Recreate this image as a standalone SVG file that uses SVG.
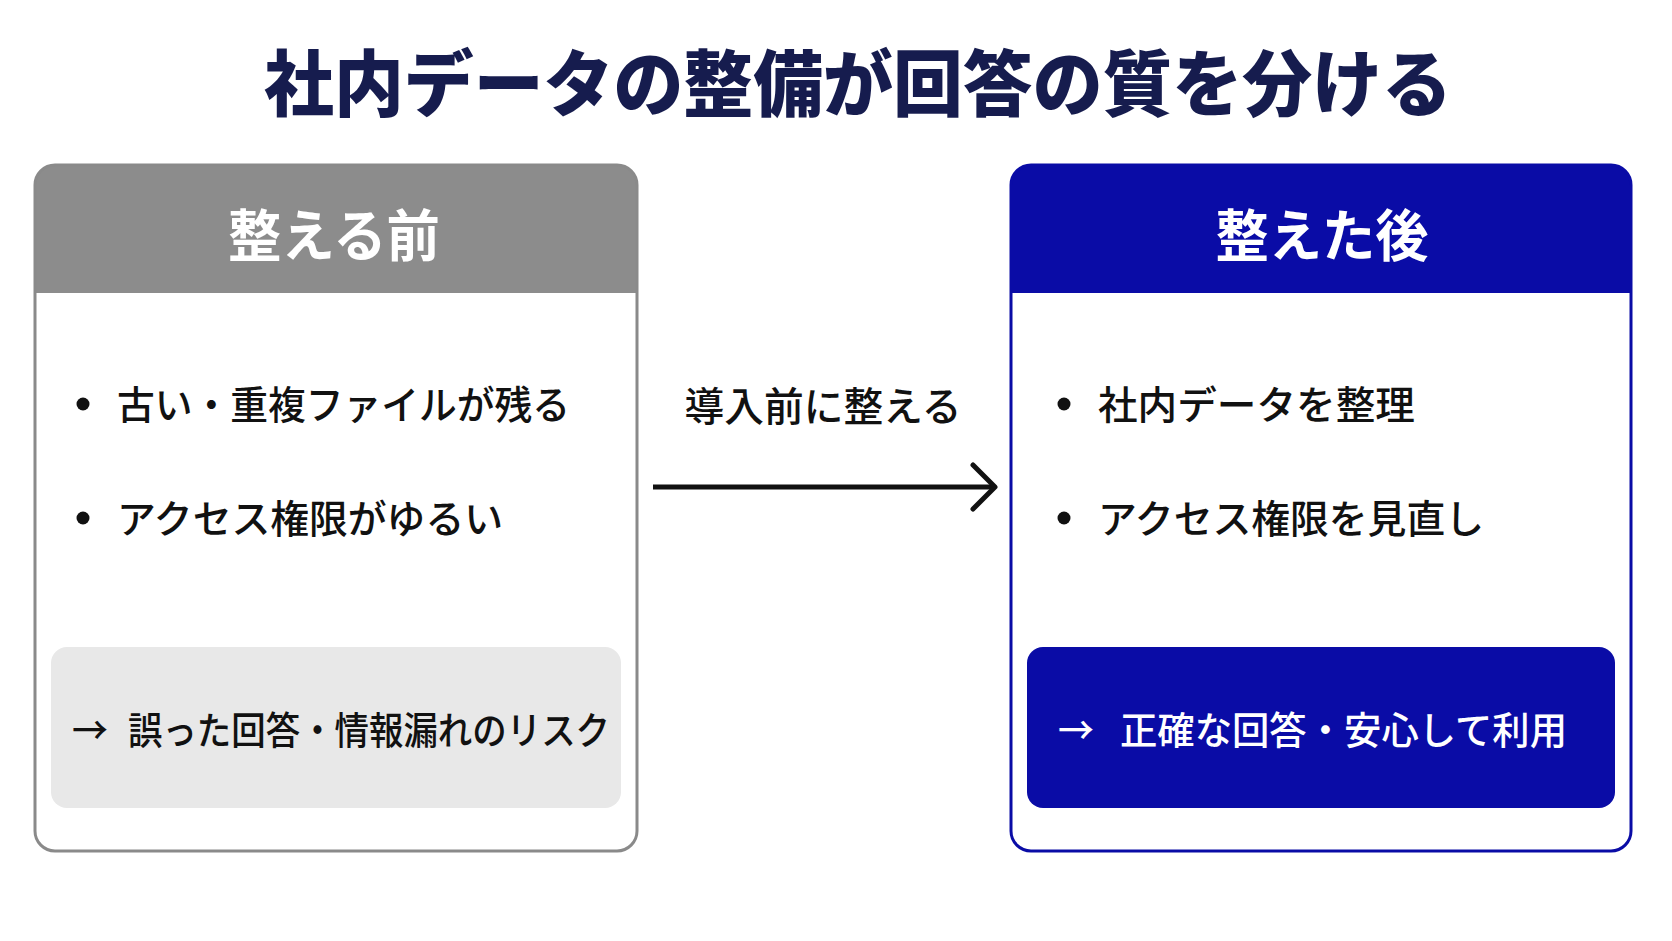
<svg xmlns="http://www.w3.org/2000/svg" width="1672" height="941" viewBox="0 0 1672 941">
  <defs>
    <style>
      text { font-family: "Noto Sans CJK JP", "Noto Sans", sans-serif; dominant-baseline: central; }
      .title { font-size: 72px; font-weight: 900; fill: #161c4e; }
      .head { font-size: 56px; font-weight: 700; fill: #ffffff; text-anchor: middle; }
      .item { font-size: 39px; font-weight: 500; fill: #111111; }
      .note { font-size: 38px; font-weight: 500; }
      .label { font-size: 40px; font-weight: 500; fill: #111111; text-anchor: middle; }
    </style>
  </defs>
  <rect x="0" y="0" width="1672" height="941" fill="#ffffff"/>

  <text class="title" x="858" y="78" text-anchor="middle" textLength="1188" lengthAdjust="spacingAndGlyphs">社内データの整備が回答の質を分ける</text>

  <g id="before">
    <rect x="35" y="165" width="602" height="686" rx="20" fill="#ffffff"/>
    <path d="M35,293 V185 A20,20 0 0 1 55,165 H617 A20,20 0 0 1 637,185 V293 Z" fill="#8c8c8c"/>
    <rect x="35" y="165" width="602" height="686" rx="20" fill="none" stroke="#8a8a8a" stroke-width="3"/>
    <text class="head" x="334" y="231" textLength="212" lengthAdjust="spacingAndGlyphs">整える前</text>
    <circle cx="83" cy="404" r="6.5" fill="#111111"/>
    <text class="item" x="117" y="402" textLength="453" lengthAdjust="spacingAndGlyphs">古い・重複ファイルが残る</text>
    <circle cx="83" cy="518" r="6.5" fill="#111111"/>
    <text class="item" x="117" y="516" textLength="386" lengthAdjust="spacingAndGlyphs">アクセス権限がゆるい</text>
    <rect x="51" y="647" width="570" height="161" rx="16" fill="#e8e8e8"/>
    <text class="note" x="72" y="727" fill="#111111" textLength="36" lengthAdjust="spacingAndGlyphs">→</text>
    <text class="note" x="128" y="727" fill="#111111" textLength="482" lengthAdjust="spacingAndGlyphs">誤った回答・情報漏れのリスク</text>
  </g>

  <g id="after">
    <rect x="1011" y="165" width="620" height="686" rx="20" fill="#ffffff"/>
    <path d="M1011,293 V185 A20,20 0 0 1 1031,165 H1611 A20,20 0 0 1 1631,185 V293 Z" fill="#0a0ca6"/>
    <rect x="1011" y="165" width="620" height="686" rx="20" fill="none" stroke="#0a0ca6" stroke-width="3"/>
    <text class="head" x="1322" y="231" textLength="213" lengthAdjust="spacingAndGlyphs">整えた後</text>
    <circle cx="1064" cy="404" r="6.5" fill="#111111"/>
    <text class="item" x="1098" y="402" textLength="317" lengthAdjust="spacingAndGlyphs">社内データを整理</text>
    <circle cx="1064" cy="518" r="6.5" fill="#111111"/>
    <text class="item" x="1098" y="516" textLength="386" lengthAdjust="spacingAndGlyphs">アクセス権限を見直し</text>
    <rect x="1027" y="647" width="588" height="161" rx="16" fill="#0a0ca6"/>
    <text class="note" x="1058" y="727" fill="#ffffff" textLength="36" lengthAdjust="spacingAndGlyphs">→</text>
    <text class="note" x="1120" y="727" fill="#ffffff" textLength="447" lengthAdjust="spacingAndGlyphs">正確な回答・安心して利用</text>
  </g>

  <g id="connectors">
    <line x1="653" y1="487" x2="993" y2="487" stroke="#111111" stroke-width="5"/>
    <polyline points="973,465 995,487 973,509" fill="none" stroke="#111111" stroke-width="5" stroke-linecap="round" stroke-linejoin="round"/>
    <text class="label" x="823" y="404" textLength="277" lengthAdjust="spacingAndGlyphs">導入前に整える</text>
  </g>
</svg>
